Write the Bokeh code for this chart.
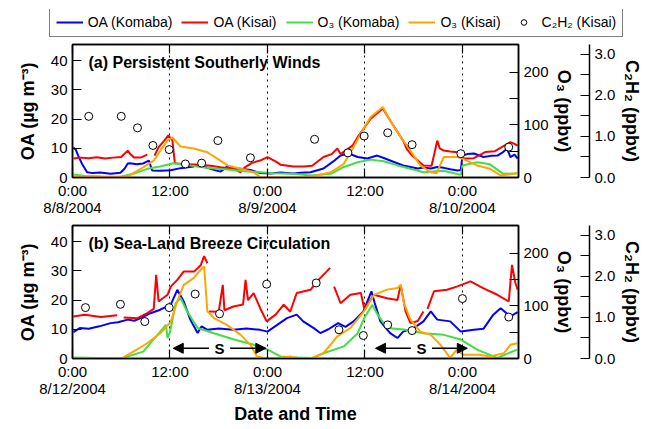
from bokeh.plotting import figure
from bokeh.models import (Range1d, LinearAxis, FixedTicker, Legend, LegendItem,
                          Label, Arrow, NormalHead)
from bokeh.layouts import column
from bokeh.embed import file_html
from bokeh.resources import INLINE

nan = float("nan")

# ---------------- data (hours since 0:00 of first day) ----------------
# Panel (a) 8/8/2004 - 8/10/2004
a_oa_komaba_t = [0.1, 0.4, 0.7, 1.2, 1.8, 2.5, 3.4, 4.7, 5.9, 6.4, 6.8, 7.1, 7.9, 8.7, 9.4, 9.8, 10.8, 12.1,
                 13.3, 14.9, 15.4, 16.4, 17.4, 18.2, 19.1, 19.8, 20.7, 21.9, 23.1, 24.4, 25.6, 27.2, 28.1,
                 29.3, 30.9, 32.1, 33.0, 34.0, 35.1, 36.3, 37.5, 38.4, 39.1, 40.7, 41.6, 42.5, 43.2, 44.1,
                 44.9, 45.7, 46.5, 47.4, 47.8, 48.0, 48.6, 49.4, 50.0, 50.6, 51.5, 52.3, 52.9, 53.5, 53.9,
                 54.4, 54.8]
a_oa_komaba = [10.3, 9.5, 7.5, 4.5, 1.8, 1.5, 1.7, 1.3, 1.6, 3.0, 4.8, 4.9, 4.5, 4.8, 5.8, 2.4, 2.3, 2.5,
               3.2, 3.8, 4.4, 3.5, 2.6, 2.0, 3.8, 3.2, 3.0, 2.6, 1.5, 1.4, 1.7, 1.4, 1.6,
               1.8, 3.1, 5.5, 7.5, 8.2, 7.0, 6.5, 7.5, 6.6, 5.8, 4.1, 3.6, 3.1, 3.4, 3.1,
               3.6, 3.3, 2.8, 2.4, 2.6, 7.5, 8.0, 8.2, 7.6, 7.0, 7.4, 7.5, 8.5, 9.9, 7.0,
               7.8, 6.5]
a_oa_kisai_t = [0.1, 1.0, 2.0, 3.0, 4.0, 5.0, 6.0, 6.8, 7.1, 7.6, 8.4, 9.2, 9.6, 10.1, 10.6, 11.3, 11.8,
                12.3, 12.6, 13.5, 15.7, 17.0, 18.2, 19.8, 20.7, 21.2, 22.1, 23.1, 24.0, 25.0, 25.6, 27.2,
                28.5, 29.5, 30.9, 31.9, 32.6, 33.0, 34.5, 35.1, 36.7, 38.2, 39.1, 40.7, 41.2, 41.8, 43.2,
                44.2, 44.9, 45.2, 45.7, 46.5, 47.4, 48.1, 49.4, 50.8, 52.0, 53.9, 54.4, 54.8]
a_oa_kisai = [6.5, 6.8, 6.6, 6.9, 6.5, 6.8, 7.0, 9.2, 8.0, 6.8, 6.8, 7.8, nan, 7.5, 10.4, 12.6, 14.4,
              12.6, 4.9, 4.6, 4.4, 4.0, 3.5, 3.0, 1.8, 3.5, 5.0, 5.8, 7.0, 5.5, 4.4, 3.8,
              3.8, 4.0, 7.0, 8.0, 9.9, 8.0, 11.0, 13.8, 20.1, 23.6, 19.5, 12.6, 9.5, 7.5, 4.1,
              4.0, 12.6, 10.0, 9.2, 8.9, 8.6, 6.5, 6.6, 8.7, 9.0, 12.1, 11.5, 10.9]
a_o3_komaba_t = [0.1, 1.5, 3.5, 5.9, 7.5, 9.2, 10.8, 12.4, 14.0, 15.7, 17.4, 19.1, 21.0, 23.1, 24.8, 27.2,
                 29.3, 31.8, 33.4, 35.1, 36.7, 38.3, 40.0, 41.6, 43.2, 45.7, 47.8, 48.0, 49.8, 51.4, 53.0,
                 54.8]
a_o3_komaba = [5.7, 3, 2, 1.3, 7, 16.5, 21, 27, 24, 20, 17, 15, 12, 10, 8, 7,
               3.8, 7, 20, 29, 34, 31, 23, 16.5, 10, 12.7, 5, 23, 29, 25, 7,
               8]
a_o3_kisai_t = [0.1, 3.0, 5.0, 6.8, 8.4, 10.0, 10.8, 11.7, 12.3, 13.3, 14.9, 16.6, 18.2, 19.1, 20.7, 22.3,
                23.1, 25.0, 27.2, 29.3, 31.8, 33.4, 34.6, 35.7, 36.7, 38.2, 39.1, 40.4, 41.6, 42.8, 44.1,
                44.8, 45.7, 47.4, 48.1, 49.8, 51.4, 52.7, 54.8]
a_o3_kisai = [2, 1.5, 1, 2, 16.5, 32, 51, 70, 76, 59, 55, 48, 32, 23, 16.5, 10,
              1, 0.5, 0, 1, 10, 26, 58, 90, 115, 134, 108, 77, 51, 23, 10,
              8, 39, 39, 35, 23, 16.5, 4, 8]
a_c2h2_t = [2.0, 6.0, 8.0, 9.9, 11.9, 13.9, 15.9, 17.9, 21.9, 29.8, 33.9, 35.9, 38.8, 41.8, 47.8, 53.7]
a_c2h2 = [1.49, 1.49, 1.21, 0.78, 0.68, 0.33, 0.35, 0.90, 0.48, 0.93, 0.60, 1.01, 1.09, 0.80, 0.58, 0.74]

# Panel (b) 8/12/2004 - 8/14/2004
b_oa_komaba_t = [0.1, 0.9, 2.0, 3.3, 4.7, 5.6, 6.8, 7.6, 8.4, 9.6, 10.8, 12.1, 12.9, 13.7, 14.5, 15.4, 15.9,
                 16.6, 18.0, 19.8, 21.4, 23.1, 24.0, 25.2, 26.4, 27.6, 28.4, 29.7, 30.5, 31.5, 32.7, 33.6,
                 34.6, 35.8, 36.8, 37.2, 37.9, 39.1, 40.0, 40.7, 42.0, 43.2, 44.1, 44.9, 46.5, 47.8, 49.4,
                 50.6, 51.8, 52.7, 53.9, 54.8]
b_oa_komaba = [9.0, 10.4, 10.2, 11.0, 12.1, 12.4, 13.3, 12.9, 13.8, 15.5, 16.7, 18.4, 23.5, 19.5, 13.3, 8.7, 11.0,
               9.8, 10.3, 9.8, 10.3, 9.8, 9.2, 11.5, 13.8, 15.0, 12.7, 10.4, 8.7, 10.0, 12.1, 10.8,
               12.7, 16.1, 23.0, 19.0, 12.7, 8.7, 7.0, 9.2, 10.4, 12.7, 16.1, 13.3, 12.7, 9.2, 9.8,
               10.2, 15.0, 17.2, 14.4, 15.9]
b_oa_kisai_t = [0.1, 1.5, 3.5, 5.5, 5.7, 6.3, 8.0, 9.2, 10.0, 10.3, 10.6, 11.7, 12.1, 12.9, 13.7, 15.0, 15.8,
                16.2, 16.6, 16.7, 16.8, 18.0, 18.5, 18.7, 19.8, 21.0, 21.3, 21.6, 22.3, 23.1, 23.9, 25.0,
                26.0, 26.8, 27.6, 29.3, 30.1, 31.3, 31.7, 31.8, 32.2, 33.0, 34.2, 35.5, 35.9, 37.1, 38.7,
                40.0, 40.4, 41.0, 41.6, 42.5, 43.2, 43.4, 43.7, 44.5, 46.1, 47.3, 49.0, 50.6, 52.3, 53.7,
                54.1, 54.5, 54.8]
b_oa_kisai = [14.4, 15.0, 14.2, 14.8, nan, 14.0, 13.8, 15.5, 17.0, 28.6, 19.5, 21.8, 24.6, 26.9, 29.8, 29.8, 32.0,
              35.0, 32.6, nan, 16.1, 16.0, 25.2, 16.5, 17.8, 18.5, 26.9, 20.0, 22.4, 17.2, 12.7, 15.0,
              18.4, 16.0, 22.4, 23.5, 26.4, 29.8, 31.0, nan, 24.6, 18.9, 21.8, 22.4, 17.2, 21.8, 20.6,
              20.0, 25.2, 16.1, 12.1, 12.8, 16.1, nan, 17.0, 23.0, 23.5, 24.6, 26.4, 24.0, 21.8, 19.5,
              32.0, 26.0, 23.5]
b_o3_komaba_t = [0.1, 3.0, 6.0, 8.7, 10.8, 11.5, 11.7, 12.0, 12.7, 13.3, 14.1, 15.4, 17.4, 19.9, 22.3, 24.0,
                 25.6, 27.7, 29.5, 30.9, 33.4, 35.1, 35.9, 36.9, 37.5, 38.7, 40.8, 43.2, 45.7, 47.8, 49.8,
                 52.3, 54.7]
b_o3_komaba = [2, 1, 0, 13, 51, 64, 39, 50, 105, 115, 90, 58, 48, 36, 26, 17,
               4, 2, 1, 10, 23, 48, 77, 102, 85, 58, 55, 48, 45, 36, 17,
               1, 17]
b_o3_kisai_t = [0.1, 6.0, 7.5, 9.2, 10.8, 12.1, 12.9, 13.7, 14.9, 15.8, 16.2, 16.6, 17.4, 19.0, 20.7, 21.9,
                22.7, 23.9, 26.0, 26.8, 27.7, 29.5, 30.9, 32.6, 34.2, 35.9, 37.1, 38.7, 40.0, 40.4, 40.8,
                41.6, 42.8, 44.1, 45.3, 46.5, 47.3, 48.1, 50.0, 51.4, 53.1, 53.9, 54.8]
b_o3_kisai = [0, 0, 13, 29, 48, 70, 109, 140, 153, 169, 175, 90, 77, 64, 45, 26,
              4, 0, 2, 4, 0, 1, 10, 42, 58, 90, 121, 131, 134, 140, 105,
              74, 51, 45, 26, 1, 17, 7, 7, 4, 10, 26, 29]
b_c2h2_t = [1.6, 5.9, 8.9, 11.9, 15.1, 18.1, 23.9, 30.0, 32.8, 35.8, 38.8, 41.8, 48.0, 53.7]
b_c2h2 = [1.24, 1.32, 0.90, 1.24, 1.57, 1.09, 1.81, 1.84, 0.70, 0.56, 0.82, 0.68, 1.46, 1.01]

# sea-breeze periods in panel (b) (start, end hours)
sea_breeze_periods = [(12.4, 23.8), (37.3, 48.6)]

x_ticks = [0, 12, 24, 36, 48]
a_tick_labels = ["0:00\n8/8/2004", "12:00", "0:00\n8/9/2004", "12:00", "0:00\n8/10/2004"]
b_tick_labels = ["0:00\n8/12/2004", "12:00", "0:00\n8/13/2004", "12:00", "0:00\n8/14/2004"]
oa_ticks = [0, 10, 20, 30, 40]
o3_ticks = [0, 100, 200]
o3_minor = [50, 150]
c2h2_ticks = [0.0, 1.0, 2.0, 3.0]
c2h2_minor = [0.5, 1.5, 2.5]

labels = ["OA (Komaba)", "OA (Kisai)", "O\u2083 (Komaba)", "O\u2083 (Kisai)", "C\u2082H\u2082 (Kisai)"]
titles = ["(a) Persistent Southerly Winds", "(b) Sea-Land Breeze Circulation"]

BLUE, RED, GREEN, ORANGE = "#0000ff", "#ff0000", "#40e040", "#ffa500"
FONT = "Liberation Sans"
TICK_FS = "15px"
TITLE_FS = "18px"


def style_axis(ax, tin=9):
    ax.major_tick_in = tin
    ax.major_tick_out = 0
    ax.minor_tick_in = tin
    ax.minor_tick_out = 0
    ax.axis_line_width = 1.5
    ax.axis_line_color = "black"
    ax.major_tick_line_width = 1.2
    ax.minor_tick_line_width = 1.2
    ax.major_label_text_font = FONT
    ax.major_label_text_font_size = TICK_FS
    ax.major_label_text_color = "black"
    ax.major_label_text_line_height = 1.0
    ax.axis_label_text_font = FONT
    ax.axis_label_text_font_size = TITLE_FS
    ax.axis_label_text_font_style = "bold"
    ax.axis_label_text_color = "black"


def draw_series(p, data):
    (oak_t, oak, oas_t, oas, o3k_t, o3k, o3s_t, o3s, c_t, c) = data
    r1 = p.line(oak_t, oak, line_color=BLUE, line_width=2)
    r2 = p.line(oas_t, oas, line_color=RED, line_width=2)
    r3 = p.line(o3k_t, o3k, line_color=GREEN, line_width=2, y_range_name="o3")
    r4 = p.line(o3s_t, o3s, line_color=ORANGE, line_width=2, y_range_name="o3")
    r5 = p.scatter(c_t, c, marker="circle", size=8, line_color="black", line_width=1,
                   fill_color="white", y_range_name="c2h2")
    return [r1, r2, r3, r4, r5]


def make_panel(data, tick_labels, title, top_border, bottom_border, xlabel=None):
    p = figure(frame_width=446, frame_height=133,
               x_range=Range1d(0, 54.9), y_range=Range1d(0, 45.5),
               output_backend="svg", toolbar_location=None,
               min_border_left=72, min_border_right=0,
               min_border_top=top_border, min_border_bottom=bottom_border,
               background_fill_color="white", border_fill_color="white")
    p.extra_y_ranges = {"o3": Range1d(0, 253), "c2h2": Range1d(0, 3.24)}
    p.outline_line_color = "black"
    p.outline_line_width = 1.5
    p.ygrid.visible = False
    p.xgrid.ticker = FixedTicker(ticks=x_ticks)
    p.xgrid.grid_line_color = "black"
    p.xgrid.grid_line_dash = "dotted"
    p.xgrid.grid_line_width = 1

    # bottom axis
    xa = p.xaxis[0]
    xa.ticker = FixedTicker(ticks=x_ticks)
    xa.major_label_overrides = {t: l for t, l in zip(x_ticks, tick_labels)}
    style_axis(xa)
    xa.major_label_standoff = 4
    if xlabel:
        xa.axis_label = xlabel
        xa.axis_label_standoff = 4

    # top axis (ticks only)
    top = LinearAxis(ticker=FixedTicker(ticks=x_ticks))
    style_axis(top)
    top.major_label_text_font_size = "0px"
    top.major_label_standoff = 0
    top.major_label_overrides = {t: "" for t in x_ticks}
    p.add_layout(top, "above")

    # left OA axis
    ya = p.yaxis[0]
    ya.ticker = FixedTicker(ticks=oa_ticks)
    style_axis(ya)
    ya.major_label_standoff = 5
    ya.axis_label = "OA (\u00b5g m\u207b\u00b3)"
    ya.axis_label_standoff = 10

    # right O3 axis
    o3ax = LinearAxis(y_range_name="o3", ticker=FixedTicker(ticks=o3_ticks, minor_ticks=o3_minor),
                      axis_label="O\u2083 (ppbv)")
    style_axis(o3ax)
    o3ax.major_label_standoff = 5
    o3ax.axis_label_standoff = 2
    p.add_layout(o3ax, "right")

    # spacer between the two right axes
    spacer = LinearAxis(y_range_name="o3", ticker=FixedTicker(ticks=[0]))
    spacer.major_label_overrides = {0: ""}
    spacer.axis_line_alpha = 0
    spacer.major_tick_line_alpha = 0
    spacer.major_tick_out = 13
    spacer.major_tick_in = 0
    spacer.major_label_standoff = 0
    p.add_layout(spacer, "right")

    # C2H2 axis
    cax = LinearAxis(y_range_name="c2h2", ticker=FixedTicker(ticks=c2h2_ticks, minor_ticks=c2h2_minor),
                     axis_label="C\u2082H\u2082 (ppbv)")
    style_axis(cax)
    cax.major_label_standoff = 5
    cax.axis_label_standoff = 4
    cax.major_label_overrides = {t: f"{t:.1f}" for t in c2h2_ticks}
    p.add_layout(cax, "right")

    draw_series(p, data)

    p.add_layout(Label(x=16, y=115, x_units="screen", y_units="screen", text=title,
                       text_font=FONT, text_font_size="16px", text_font_style="bold",
                       text_baseline="middle", text_color="black"))
    return p


data_a = (a_oa_komaba_t, a_oa_komaba, a_oa_kisai_t, a_oa_kisai,
          a_o3_komaba_t, a_o3_komaba, a_o3_kisai_t, a_o3_kisai, a_c2h2_t, a_c2h2)
data_b = (b_oa_komaba_t, b_oa_komaba, b_oa_kisai_t, b_oa_kisai,
          b_o3_komaba_t, b_o3_komaba, b_o3_kisai_t, b_o3_kisai, b_c2h2_t, b_c2h2)

# legend strip: same series drawn outside the visible range, only the legend shows
pl = figure(frame_width=616, frame_height=30, x_range=Range1d(-20, -10), y_range=Range1d(-20, -10),
            x_axis_location=None, y_axis_location=None,
            min_border_left=44, min_border_right=0, min_border_top=9, min_border_bottom=3,
            output_backend="svg", toolbar_location=None,
            background_fill_color="white", border_fill_color="white")
pl.extra_y_ranges = {"o3": Range1d(-20, -10), "c2h2": Range1d(-20, -10)}
pl.outline_line_color = None
pl.grid.visible = False
leg_rends = draw_series(pl, data_a)
legend = Legend(items=[LegendItem(label=l, renderers=[r]) for l, r in zip(labels, leg_rends)],
                orientation="horizontal", location=(34, 2))
legend.label_text_font = FONT
legend.label_text_font_size = "14px"
legend.label_text_color = "black"
legend.glyph_width = 27
legend.glyph_height = 14
legend.label_height = 14
legend.label_standoff = 5
legend.spacing = 9
legend.padding = 6
legend.margin = 0
legend.border_line_color = "black"
legend.border_line_width = 1.5
legend.background_fill_alpha = 1
pl.add_layout(legend, "center")

pa = make_panel(data_a, a_tick_labels, titles[0], 2, 44)
pb = make_panel(data_b, b_tick_labels, titles[1], 4, 60, xlabel="Date and Time")

# sea breeze arrows in panel (b)
for (s, e) in sea_breeze_periods:
    mid = (s + e) / 2
    pb.add_layout(Arrow(end=NormalHead(size=10, fill_color="black", line_color="black"),
                        x_start=mid - 1.3, y_start=3.5, x_end=s, y_end=3.5,
                        line_color="black", line_width=1.5))
    pb.add_layout(Arrow(end=NormalHead(size=10, fill_color="black", line_color="black"),
                        x_start=mid + 1.3, y_start=3.5, x_end=e, y_end=3.5,
                        line_color="black", line_width=1.5))
    pb.add_layout(Label(x=mid, y=3.5, text="S", text_font=FONT, text_font_size="15px",
                        text_font_style="bold", text_align="center", text_baseline="middle",
                        text_color="black"))

layout = column(pl, pa, pb, spacing=0)
open("out.html", "w").write(file_html(layout, INLINE))
